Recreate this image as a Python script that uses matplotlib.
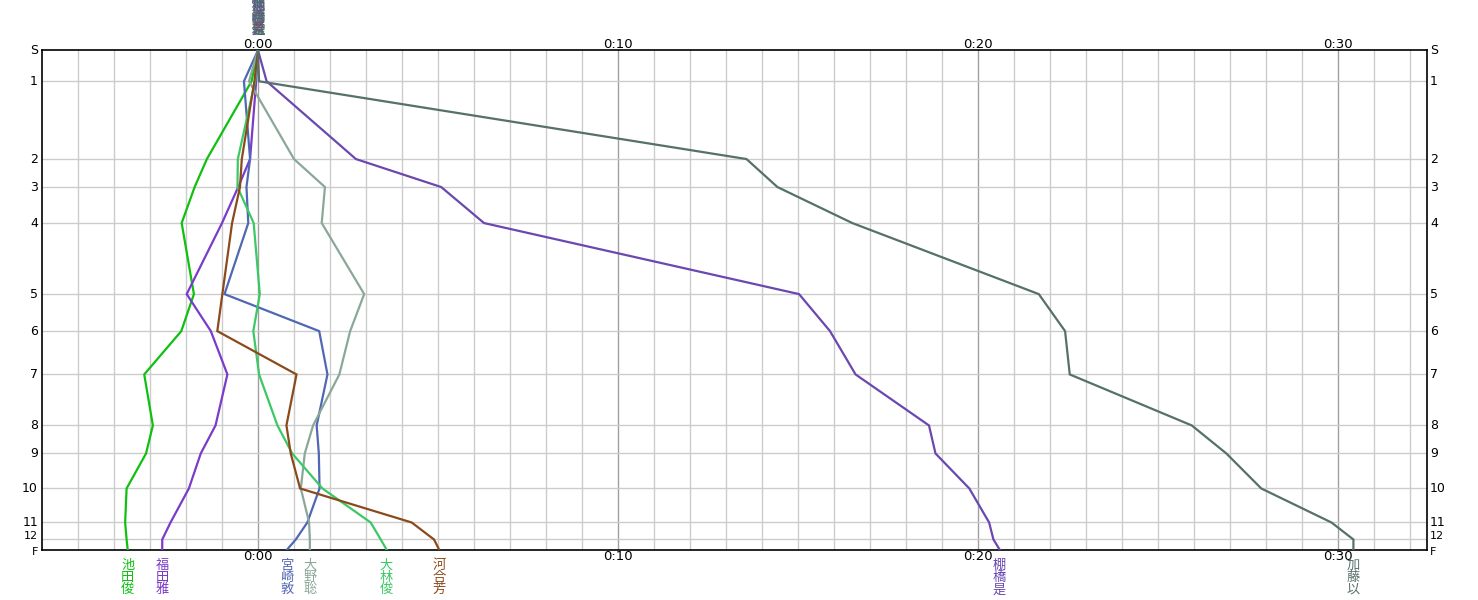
import matplotlib
matplotlib.use("Agg")
import matplotlib.pyplot as plt
from matplotlib import transforms

plt.rcParams['font.family'] = ['Noto Sans CJK JP', 'DejaVu Sans']

# controls and their vertical position along the course
controls = ['S', '1', '2', '3', '4', '5', '6', '7', '8', '9', '10', '11', '12', 'F']
control_pos = [0, 31, 108.7, 136.7, 172.7, 243.7, 280.7, 324, 375, 403, 438, 472, 489, 499]

# time behind the reference at each control (minutes)
runners = ['池田俊', '福田雅', '宮崎敦', '大野聡', '大林俊', '河合芳', '棚橋是', '加藤以']
ikeda = [0, -0.18, -1.42, -1.76, -2.12, -1.78, -2.13, -3.16, -2.92, -3.11, -3.65, -3.69, -3.65, -3.62]
fukuda = [0, -0.05, -0.22, -0.55, -1.0, -1.98, -1.31, -0.85, -1.18, -1.59, -1.92, -2.43, -2.66, -2.66]
miyazaki = [0, -0.39, -0.22, -0.32, -0.27, -0.93, 1.70, 1.93, 1.63, 1.69, 1.71, 1.37, 1.05, 0.81]
ono = [0, -0.25, 1.0, 1.86, 1.77, 2.95, 2.56, 2.26, 1.53, 1.30, 1.19, 1.42, 1.44, 1.44]
obayashi = [0, -0.08, -0.56, -0.57, -0.12, 0.05, -0.13, 0.03, 0.54, 0.95, 1.79, 3.13, 3.41, 3.57]
kawai = [0, -0.1, -0.45, -0.5, -0.72, -0.99, -1.13, 1.07, 0.79, 0.91, 1.17, 4.27, 4.89, 5.03]
tanahashi = [0, 0.24, 2.72, 5.09, 6.28, 15.03, 15.89, 16.60, 18.64, 18.82, 19.76, 20.31, 20.43, 20.60]
kato = [0, 0.03, 13.57, 14.43, 16.51, 21.69, 22.42, 22.55, 25.94, 26.9, 27.87, 29.82, 30.43, 30.43]
series = [ikeda, fukuda, miyazaki, ono, obayashi, kawai, tanahashi, kato]

colors = ['#10c010', '#7a3cc8', '#5068b4', '#8aa898', '#3cc864', '#8b4a1c', '#6a48b0', '#56706a']

major_ticks = [0, 10, 20, 30]
major_labels = ['0:00', '0:10', '0:20', '0:30']

W, H = 1478, 600
fig = plt.figure(figsize=(W / 100, H / 100), dpi=100)
fig.patch.set_facecolor('white')
ax = fig.add_axes([42 / W, 1 - 549.5 / H, (1426.5 - 42) / W, (549.5 - 50.3) / H])

ax.set_xlim(-6.0, 32.46)
ax.set_ylim(control_pos[-1], control_pos[0])

# grid: one line per minute, darker every 10 minutes, one per control
for m in range(-5, 33):
    c = '#a0a0a0' if m % 10 == 0 else '#cccccc'
    ax.axvline(m, color=c, lw=1.0, zorder=1)
for p in control_pos[1:-1]:
    ax.axhline(p, color='#cccccc', lw=1.0, zorder=1)

for vals, c in zip(series, colors):
    ax.plot(vals, control_pos, color=c, lw=1.6, zorder=3, solid_joinstyle='miter')

for s in ax.spines.values():
    s.set_color('black')
    s.set_linewidth(1.2)

ax.set_xticks([])
ax.set_yticks([])

# axis labels drawn as text
xt = transforms.blended_transform_factory(ax.transData, fig.transFigure)
for t, lab in zip(major_ticks, major_labels):
    ax.text(t, 1 - 44 / H, lab, transform=xt, ha='center', va='center', fontsize=9.5,
            family='DejaVu Sans')
    ax.text(t, 1 - 557 / H, lab, transform=xt, ha='center', va='center', fontsize=9.5,
            family='DejaVu Sans')

yt_left = transforms.blended_transform_factory(fig.transFigure, ax.transData)
for lab, p in zip(controls, control_pos):
    # 12 and F sit very close together: nudge them apart a little
    dy = {'12': -3.5, 'F': 2.5}.get(lab, 0)
    fs = 8 if lab in ('12', 'F') else 9
    ax.text(38 / W, p + dy, lab, transform=yt_left, ha='right', va='center', fontsize=fs,
            family='DejaVu Sans')
    ax.text(1430 / W, p + dy, lab, transform=yt_left, ha='left', va='center', fontsize=fs,
            family='DejaVu Sans')

# runner names, stacked vertically, at start and finish
for name, vals, c in zip(runners, series, colors):
    stacked = '\n'.join(name)
    ax.text(vals[-1], 1 - 559 / H, stacked, transform=xt, ha='center', va='top',
            fontsize=9.5, color=c, linespacing=0.92)
    ax.text(vals[0], 1 - 37 / H, stacked, transform=xt, ha='center', va='bottom',
            fontsize=9.5, color=c, linespacing=0.92)

fig.savefig('out.png', dpi=100, facecolor='white')
